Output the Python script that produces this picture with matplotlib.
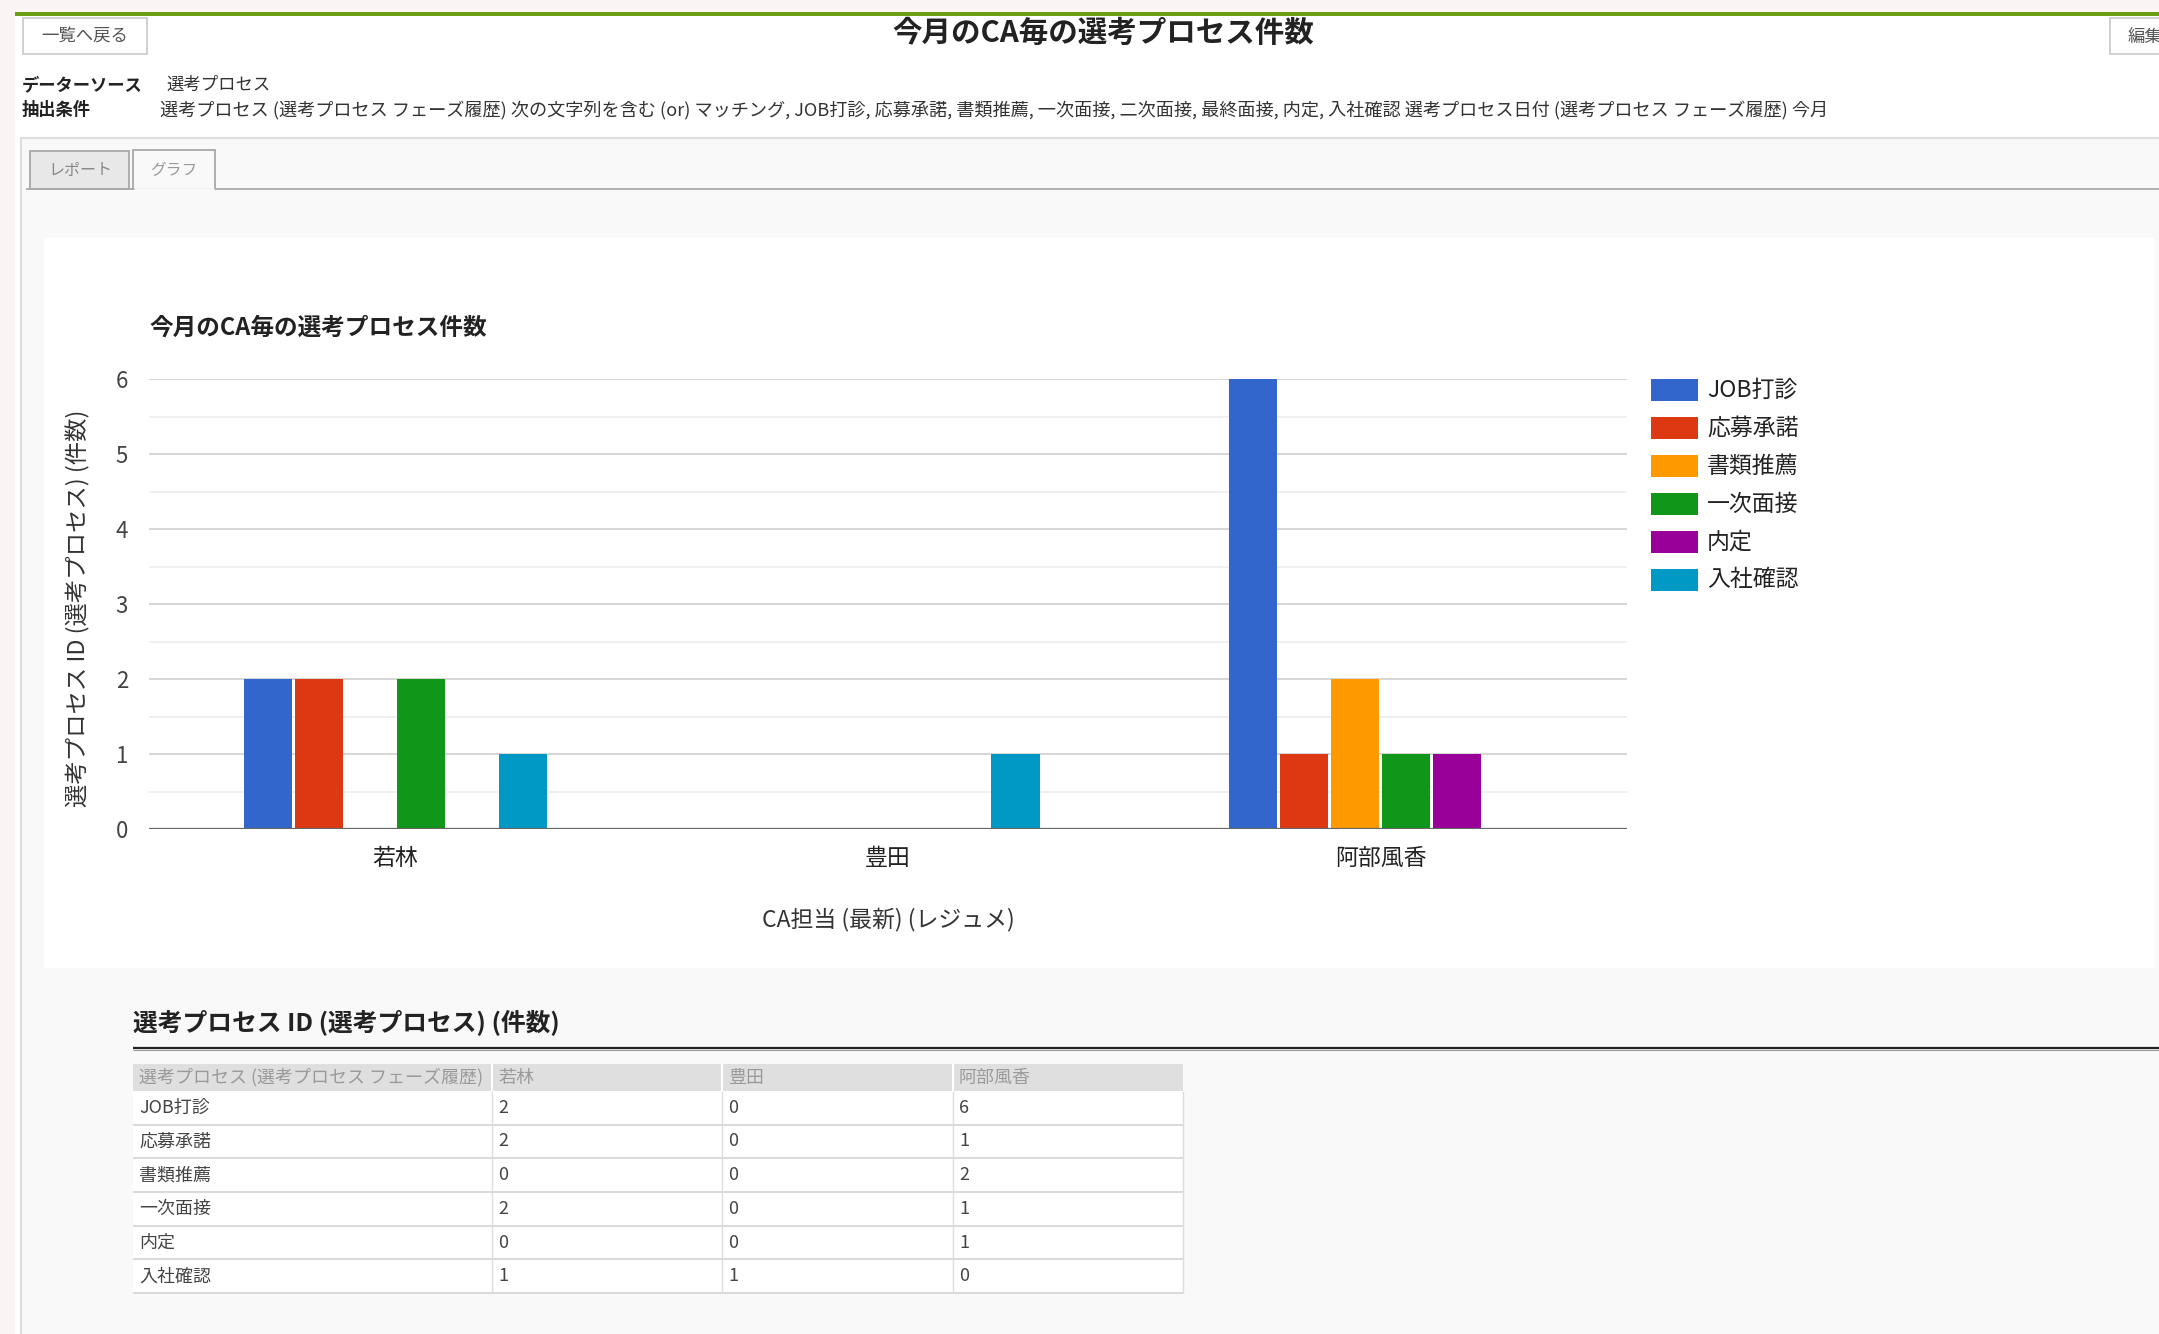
import matplotlib
matplotlib.use("Agg")
import matplotlib.pyplot as plt
from matplotlib.patches import Rectangle
import numpy as np

plt.rcParams['font.family'] = ['Noto Sans CJK JP', 'DejaVu Sans']

# ---------------- data ----------------
categories = ['若林', '豊田', '阿部風香']
series_names = ['JOB打診', '応募承諾', '書類推薦', '一次面接', '内定', '入社確認']
job_dashin = [2, 0, 6]
oubo_shoudaku = [2, 0, 1]
shorui_suisen = [0, 0, 2]
ichiji_mensetsu = [2, 0, 1]
naitei = [0, 0, 1]
nyusha_kakunin = [1, 1, 0]
series_values = [job_dashin, oubo_shoudaku, shorui_suisen, ichiji_mensetsu, naitei, nyusha_kakunin]
series_colors = ['#3366cc', '#dc3912', '#ff9900', '#109618', '#990099', '#0099c6']
y_ticks = [0, 1, 2, 3, 4, 5, 6]
y_minor_ticks = [0.5, 1.5, 2.5, 3.5, 4.5, 5.5]

page_title = '今月のCA毎の選考プロセス件数'
chart_title = '今月のCA毎の選考プロセス件数'
y_label = '選考プロセス ID (選考プロセス) (件数)'
x_label = 'CA担当 (最新) (レジュメ)'
table_title = '選考プロセス ID (選考プロセス) (件数)'
table_header_first = '選考プロセス (選考プロセス フェーズ履歴)'
source_label, source_value = 'データーソース', '選考プロセス'
cond_label = '抽出条件'
cond_value = ('選考プロセス (選考プロセス フェーズ履歴) 次の文字列を含む (or) マッチング, JOB打診, 応募承諾, '
              '書類推薦, 一次面接, 二次面接, 最終面接, 内定, 入社確認 選考プロセス日付 (選考プロセス フェーズ履歴) 今月')

# ---------------- figure / page ----------------
W, H = 2159, 1334
fig = plt.figure(figsize=(W / 100, H / 100), dpi=100, facecolor='#fbf4f4')
page = fig.add_axes([0, 0, 1, 1], zorder=0)
page.set_xlim(0, W)
page.set_ylim(H, 0)
page.axis('off')
renderer = fig.canvas.get_renderer()


def rect(x0, y0, x1, y1, fc, ec='none', lw=0, z=1):
    page.add_patch(Rectangle((x0, y0), x1 - x0, y1 - y0, facecolor=fc,
                             edgecolor=ec, linewidth=lw, zorder=z))


def hline(y, x0, x1, color, lw, z=3):
    page.plot([x0, x1], [y, y], color=color, lw=lw, solid_capstyle='butt', zorder=z)


def vline(x, y0, y1, color, lw, z=3):
    page.plot([x, x], [y0, y1], color=color, lw=lw, solid_capstyle='butt', zorder=z)


def fit(t, width):
    bb = t.get_window_extent(renderer)
    t.set_fontsize(t.get_fontsize() * width / bb.width)
    return t


# page body
rect(15, 15, W + 5, H + 5, 'white', z=0.5)
rect(15, 12, W + 5, 15.5, '#6b9e12', z=1)

# buttons
rect(23, 18, 147, 54, 'white', ec='#c8c8c8', lw=1.2, z=2)
fit(page.text(85, 37, '一覧へ戻る', ha='center', va='center', color='#555555', fontsize=12, zorder=4), 87)
rect(2110, 18, 2220, 54, 'white', ec='#c8c8c8', lw=1.2, z=2)
page.text(2128, 37, '編集', ha='left', va='center', color='#555555', fontsize=12.5, zorder=4)

# header title
fit(page.text(1103, 33, page_title, ha='center', va='center', weight='bold',
              color='#222222', fontsize=17, zorder=4), 422)

# info lines
fit(page.text(22, 85, source_label, ha='left', va='center', weight='bold', color='#222222', fontsize=11, zorder=4), 121)
fit(page.text(166, 85, source_value, ha='left', va='center', color='#333333', fontsize=11, zorder=4), 104)
fit(page.text(22, 110, cond_label, ha='left', va='center', weight='bold', color='#222222', fontsize=11, zorder=4), 69)
fit(page.text(160, 110, cond_value, ha='left', va='center', color='#333333', fontsize=10, zorder=4), 1671)

# tab container
rect(21, 138, W + 5, H + 5, '#f9f9f9', ec='#dddddd', lw=1.5, z=1)
hline(189, 26, 133, '#aaaaaa', 1.3)
hline(189, 215, W, '#aaaaaa', 1.3)
rect(30, 151, 129, 189, '#e8e8e8', ec='#a8a8a8', lw=1.3, z=2)
rect(133, 150, 215, 189, '#f9f9f9', ec='#a8a8a8', lw=1.3, z=2)
hline(189, 134, 214, '#f9f9f9', 2.0, z=3.5)
fit(page.text(80, 170, 'レポート', ha='center', va='center', color='#888888', fontsize=11, zorder=4), 64)
fit(page.text(174, 170, 'グラフ', ha='center', va='center', color='#999999', fontsize=11, zorder=4), 47)

# chart card
rect(44, 238, 2154, 968, 'white', z=2)
fit(page.text(149, 328, chart_title, ha='left', va='center', weight='bold',
              color='#222222', fontsize=15, zorder=4), 338)

# ---------------- chart ----------------
ax = fig.add_axes([149 / W, 1 - 829 / H, 1478 / W, 450 / H], zorder=2)
ax.set_facecolor('white')
x = np.arange(len(categories))
slot = 0.1035
for i, (vals, c) in enumerate(zip(series_values, series_colors)):
    ax.bar(x + (i - 2.5) * slot, vals, width=slot * 0.95, color=c, zorder=3, label=series_names[i])
ax.set_xlim(-0.5, len(categories) - 0.5)
ax.set_ylim(0, 6)
ax.set_yticks(y_ticks)
ax.set_yticks(y_minor_ticks, minor=True)
ax.set_xticks(x)
ax.set_xticklabels(categories)
ax.yaxis.grid(True, which='major', color='#d6d6d6', lw=1.4)
ax.yaxis.grid(True, which='minor', color='#eeeeee', lw=1.2)
ax.set_axisbelow(True)
ax.axhline(0, color='#666666', lw=1.6, zorder=4)
for s in ax.spines.values():
    s.set_visible(False)
ax.tick_params(axis='y', which='both', length=0, labelsize=16, labelcolor='#444444', pad=15)
ax.tick_params(axis='x', which='both', length=0, labelsize=16.5, labelcolor='#222222', pad=13)
ax.set_ylabel(y_label, fontsize=16.8, color='#333333', style='italic', va='center', ha='center')
ax.yaxis.set_label_coords((78 - 149) / 1478, (829 - 608) / 450)
ax.set_xlabel(x_label, fontsize=16.5, color='#333333', style='italic', va='center', ha='center')
ax.xaxis.set_label_coords(0.5, (829 - 919) / 450)

# legend (manual, Google-charts style)
for i, (name, c) in enumerate(zip(series_names, series_colors)):
    yc = 390 + i * 38
    rect(1651, yc - 11, 1698, yc + 11, c, z=3)
    page.text(1707, yc, name, ha='left', va='center', fontsize=16.5, color='#222222', zorder=4)

# ---------------- table ----------------
fit(page.text(133, 1022, table_title, ha='left', va='center', weight='bold',
              color='#222222', fontsize=16, zorder=4), 427)
hline(1047.5, 133, W + 5, '#222222', 1.6)
hline(1049.5, 133, W + 5, '#999999', 0.8)

cols = [133, 492, 722, 953, 1183]
hdr_top, hdr_bot = 1064, 1091
row_h = (1293 - 1091) / len(series_names)
rect(cols[0], hdr_top, cols[-1], hdr_bot, '#dfdfdf', z=2)
for cx in cols[1:-1]:
    vline(cx, hdr_top, hdr_bot, 'white', 1.5)

t0 = fit(page.text(cols[0] + 6, (hdr_top + hdr_bot) / 2, table_header_first, ha='left', va='center',
                   color='#9a9a9a', fontsize=11, zorder=4), 343)
tfs = t0.get_fontsize()
for j, cat in enumerate(categories):
    page.text(cols[j + 1] + 6, (hdr_top + hdr_bot) / 2, cat, ha='left', va='center',
              color='#9a9a9a', fontsize=tfs, zorder=4)

for r, (name, vals) in enumerate(zip(series_names, series_values)):
    y0 = hdr_bot + r * row_h
    y1 = y0 + row_h
    rect(cols[0], y0, cols[-1], y1, 'white', z=2)
    hline(y1, cols[0], cols[-1], '#d9d9d9', 1.4)
    for cx in cols[1:]:
        vline(cx, y0, y1, '#dddddd', 1.0)
    yc = (y0 + y1) / 2
    page.text(cols[0] + 6, yc, name, ha='left', va='center', color='#444444', fontsize=tfs, zorder=4)
    for j, v in enumerate(vals):
        page.text(cols[j + 1] + 6, yc, str(v), ha='left', va='center', color='#444444',
                  fontsize=tfs, zorder=4)

fig.savefig('out.png', dpi=100, facecolor=fig.get_facecolor())
